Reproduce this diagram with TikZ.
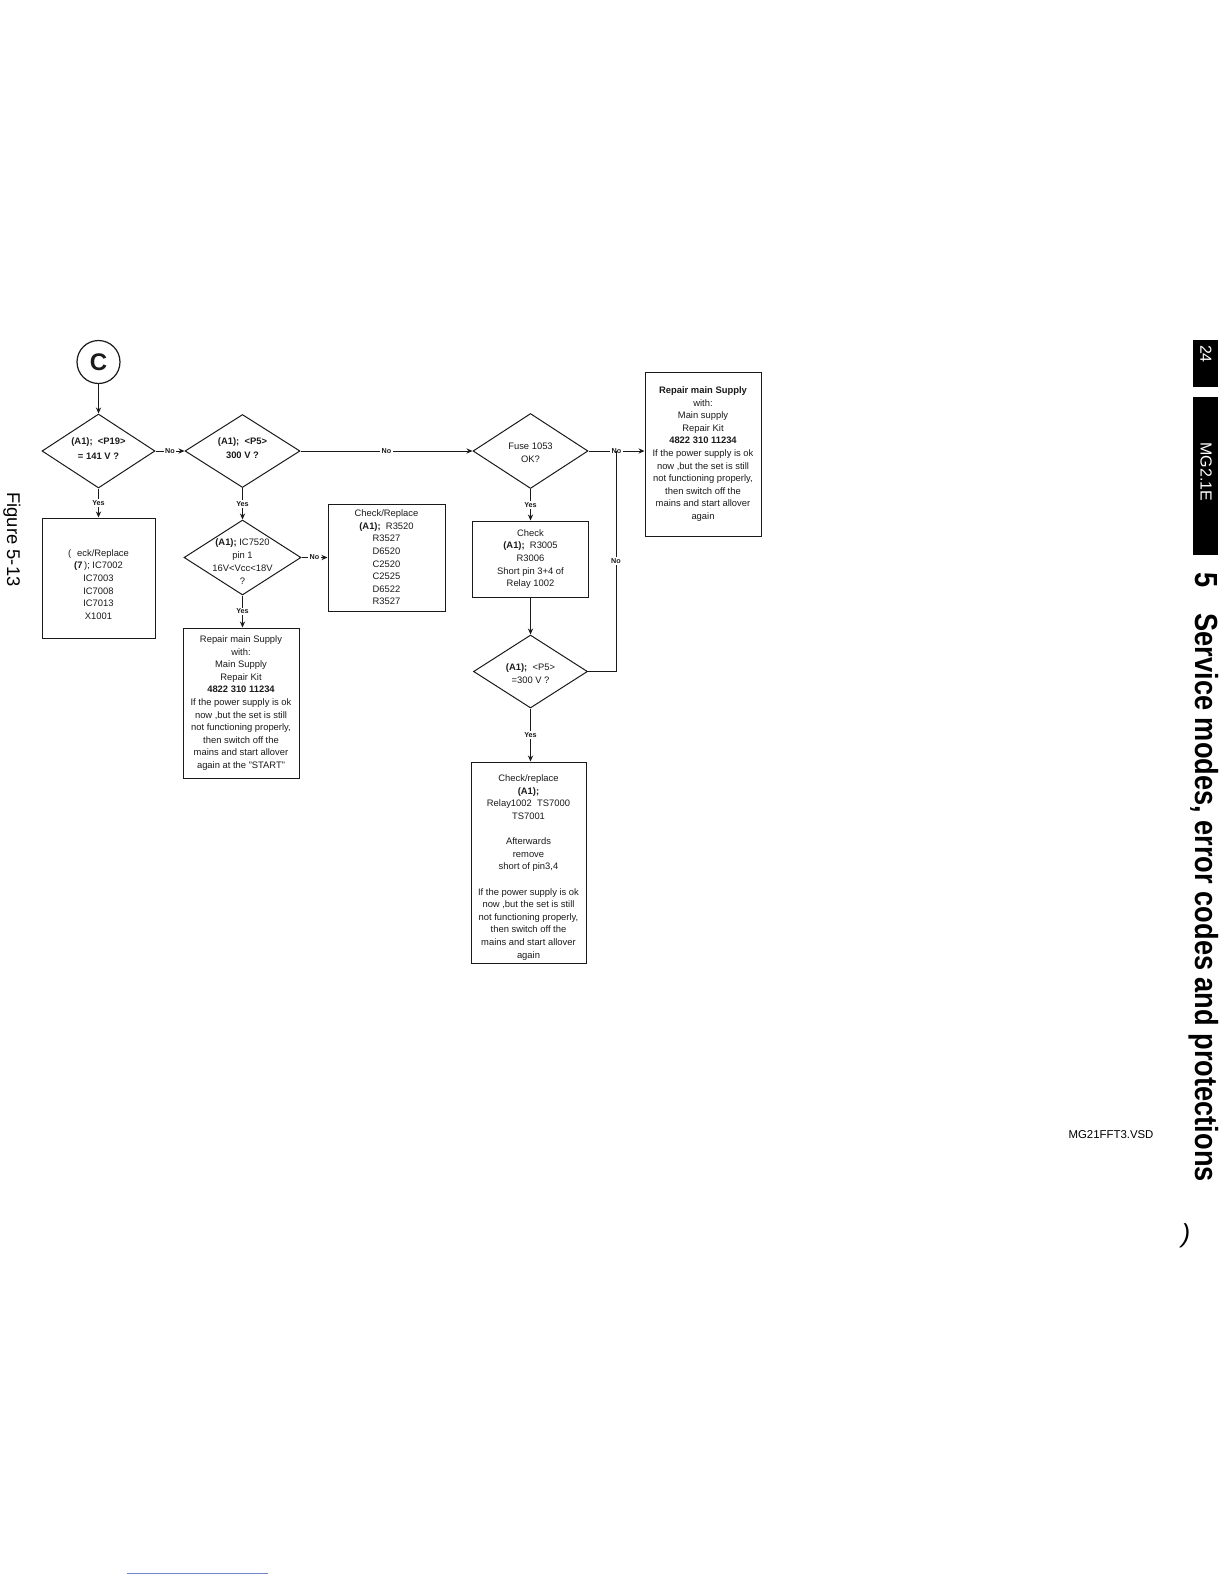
\documentclass[tikz,border=0pt]{standalone}
\usepackage{fontspec}
\setmainfont{Liberation Sans}
\newfontfamily\headfont[FakeStretch=0.85]{Liberation Sans}
\usetikzlibrary{arrows.meta,shapes.geometric}
\definecolor{ink}{HTML}{1A1A1A}
\definecolor{rulblue}{HTML}{6F86CF}
\tikzset{
  start/.style={circle, draw=ink, line width=0.6pt, minimum size=21.5pt, inner sep=0pt, font=\fontsize{12}{14}\selectfont\bfseries, text=ink},
  dia/.style={diamond, draw=ink, line width=0.5pt, inner sep=0pt},
  dtxt/.style={font=\fontsize{4.7}{6.3}\selectfont, align=center, inner sep=0pt, text=ink},
  dtxtb/.style={dtxt, font=\fontsize{4.7}{6.3}\selectfont\bfseries},
  box/.style={rectangle, draw=ink, line width=0.5pt, inner sep=0pt, align=center, font=\fontsize{4.7}{6.3}\selectfont, text=ink},
  conn/.style={draw=ink, line width=0.5pt, -{Stealth[length=3pt,width=2.6pt]}},
  wire/.style={draw=ink, line width=0.5pt},
  yn/.style={font=\fontsize{3.6}{4}\selectfont\bfseries, fill=white, inner sep=0.7pt, text=ink},
  tab/.style={rectangle, fill=black, inner sep=0pt, rotate=-90},
  tabtxt/.style={text=white, inner sep=0pt, rotate=-90, font=\fontsize{8}{9}\selectfont},
  hdr/.style={rotate=-90, inner sep=0pt, font=\headfont\fontsize{16}{18}\selectfont\bfseries},
  fig/.style={rotate=-90, inner sep=0pt, font=\fontsize{9.2}{10}\selectfont},
  note/.style={inner sep=0pt, font=\fontsize{5.7}{7}\selectfont},
}

\begin{document}
\begin{tikzpicture}[x=0.5pt,y=0.5pt]
  \useasboundingbox (0,0) rectangle (1224,-1584);
  % start point
  \node[start] (c) at (98.5,-362) {C};
  % decisions
  \node[dia, minimum width=56.5pt, minimum height=37pt] (d1) at (98.5,-451) {};
  \node[dtxtb] (d1t) at (98.5,-448.5) {(A1);\ \ <P19>\\[0.8pt]= 141 V ?};
  \node[dia, minimum width=57.5pt, minimum height=36.5pt] (d2) at (242.5,-451) {};
  \node[dtxtb] (d2t) at (242.5,-448.5) {(A1);\ \ <P5>\\[0.8pt]300 V ?};
  \node[dia, minimum width=58.5pt, minimum height=37.5pt] (d3) at (242.5,-557.5) {};
  \node[dtxt] (d3t) at (242.5,-561.5) {\textbf{(A1);}\ IC7520\\[0.2pt]pin 1\\[0.2pt]16V<Vcc<18V\\[0.2pt]?};
  \node[dia, minimum width=57.5pt, minimum height=37.5pt] (fuse) at (530.5,-451) {};
  \node[dtxt] (fuset) at (530.5,-453) {Fuse 1053\\OK?};
  \node[dia, minimum width=57pt, minimum height=36.5pt] (d5) at (530.5,-671.5) {};
  \node[dtxt] (d5t) at (530.5,-673.5) {\textbf{(A1);}\ \ <P5>\\=300 V ?};
  % actions
  \node[box, minimum width=56.5pt, minimum height=60pt] (b1) at (98.5,-578) {};
  \node[dtxt] (b1t) at (98.5,-584.5) {(\hspace{3pt}eck/Replace\\\textbf{(7}\,); IC7002\\IC7003\\IC7008\\IC7013\\X1001};
  \node[box, minimum width=58.5pt, minimum height=53.5pt] (b2) at (386.5,-557.5) {Check/Replace\\\textbf{(A1);}\ \ R3520\\R3527\\D6520\\C2520\\C2525\\D6522\\R3527};
  \node[box, minimum width=58pt, minimum height=75pt] (b3) at (241,-703) {Repair main Supply\\with:\\Main Supply\\Repair Kit\\\textbf{4822 310 11234}\\If the power supply is ok\\now ,but the set is still\\not functioning properly,\\then switch off the\\mains and start allover\\again at the "START"};
  \node[box, minimum width=58pt, minimum height=82pt] (b4) at (703,-454) {\textbf{Repair main Supply}\\with:\\Main supply\\Repair Kit\\\textbf{4822 310 11234}\\If the power supply is ok\\now ,but the set is still\\not functioning properly,\\then switch off the\\mains and start allover\\again};
  \node[box, minimum width=58pt, minimum height=38pt] (chk) at (530.5,-559) {Check\\\textbf{(A1);}\ \ R3005\\R3006\\Short pin 3+4 of\\Relay 1002};
  \node[box, minimum width=57.5pt, minimum height=100.5pt] (b6) at (528.5,-862.5) {};
  \node[dtxt] (b6t) at (528.5,-867.5) {Check/replace\\\textbf{(A1);}\\Relay1002\ \ TS7000\\TS7001\\[6.3pt]Afterwards\\remove\\short of pin3,4\\[6.3pt]If the power supply is ok\\now ,but the set is still\\not functioning properly,\\then switch off the\\mains and start allover\\again};
  \coordinate (jn) at (616,-451);
  % connectors
  \draw[conn] (c) -- (d1);
  \draw[conn] (d1) -- node[yn] (y1) {Yes} (b1);
  \draw[conn] (d1) -- node[yn] (n1) {No} (d2);
  \draw[conn] (d2) -- node[yn] (n2) {No} (fuse);
  \draw[conn] (d2) -- node[yn] (y2) {Yes} (d3);
  \draw[conn] (d3) -- node[yn] (n3) {No} (b2);
  \draw[conn] (d3.south) -- node[yn] (y3) {Yes} (d3.south |- b3.north);
  \draw[conn] (fuse) -- node[yn] (n4) {No} (fuse -| b4.west);
  \draw[conn] (fuse) -- node[yn] (y4) {Yes} (chk);
  \draw[conn] (chk) -- (d5);
  \draw[wire] (d5) -| node[yn, pos=0.75] (n5) {No} (jn);
  \draw[conn] (d5.south) -- node[yn] (y5) {Yes} (d5.south |- b6.north);
  % page furniture
  \node[fig, anchor=base west] (fig) at (7,-492) {Figure 5-13};
  \node[tab, minimum width=23.5pt, minimum height=12.5pt] (tab24) at (1205.5,-363.5) {};
  \node[tabtxt] (t24) at (1206,-354) {24};
  \node[tab, minimum width=79pt, minimum height=12.5pt] (tabmg) at (1205.5,-476) {};
  \node[tabtxt] (tmg) at (1206,-472) {MG2.1E};
  \node[hdr, anchor=base west] (ttl) at (1195,-572) {5\hspace{13pt}Service modes, error codes and protections};
  \node[note] (vsd) at (1111,-1135) {MG21FFT3.VSD};
  \node[note, font=\fontsize{13}{14}\selectfont\itshape] (paren) at (1186,-1236) {)};
  \draw[rulblue, line width=0.5pt] (127,-1573) -- (268,-1573);
\end{tikzpicture}
\end{document}
